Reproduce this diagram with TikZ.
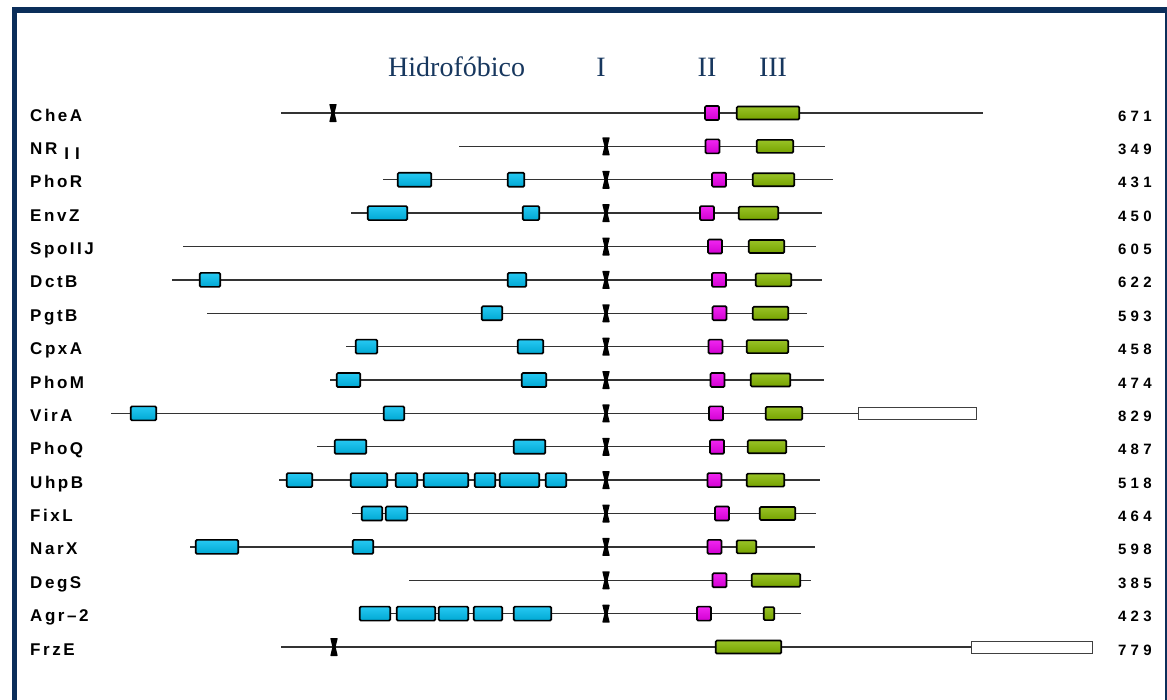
\documentclass[tikz,border=0pt]{standalone}
\usepackage{fontspec}
\setmainfont{Liberation Serif}
\newfontfamily\protfont{Liberation Sans}[LetterSpace=15]
\newfontfamily\lenfont{Liberation Sans}[LetterSpace=28]
\newfontfamily\headfont{Liberation Serif}
\usetikzlibrary{calc}
\definecolor{cframe}{HTML}{0B2E5A}
\definecolor{chead}{HTML}{17375E}
\definecolor{ccyan}{HTML}{00BFF0}
\definecolor{cmagenta}{HTML}{EE00EE}
\definecolor{cgreen}{HTML}{86B800}
\definecolor{cline}{HTML}{333333}
\tikzset{
  every picture/.style={x=1pt, y=-1pt},
  frame/.style={draw=cframe, line width=5.5pt},
  backbone/.style={draw=cline, line width=1.3pt},
  domain/.style={draw=black, line width=1.7pt, rounded corners=1.2pt, inner sep=0pt,
    minimum height=14pt, top color=#1!85!white, bottom color=#1!88!black},
  hydro/.style={domain=ccyan},
  boxII/.style={domain=cmagenta, minimum width=14pt},
  boxIII/.style={domain=cgreen, minimum height=13pt},
  tail/.style={draw=black!75, line width=1pt, fill=white, inner sep=0pt, minimum height=12pt},
  hourglass/.style={fill=black, rounded corners=0.6pt},
  protname/.style={font=\protfont\bfseries\fontsize{17}{17}\selectfont, anchor=base west, inner sep=0pt},
  protlen/.style={font=\lenfont\bfseries\fontsize{15}{15}\selectfont, anchor=base west, inner sep=0pt},
  head/.style={font=\headfont\fontsize{28}{28}\selectfont, text=chead, inner sep=0pt},
}

\begin{document}
\begin{tikzpicture}
  \useasboundingbox (0,0) rectangle (1167,699);
  \draw[frame] (14.5,705) -- (14.5,10) -- (1167.5,10) -- (1167.5,705);
  % column heads
  \node[head, anchor=base west] (hhyd) at (388,76) {Hidrofóbico};
  \node[head, anchor=base] (hI) at (601,76) {I};
  \node[head, anchor=base] (hII) at (707,76) {II};
  \node[head, anchor=base] (hIII) at (773,76) {III};
  % names and lengths
  \foreach \nm/\len [count=\i] in {CheA/671, {NR\hspace{7pt}\raisebox{-5pt}{I\hspace{6pt}I}}/349, PhoR/431, EnvZ/450,
      SpoIIJ/605, DctB/622, PgtB/593, CpxA/458, PhoM/474, VirA/829, PhoQ/487, UhpB/518,
      FixL/464, NarX/598, DegS/385, Agr–2/423, FrzE/779} {
    \node[protname] (name\i) at (30,{113+33.375*(\i-1)+8}) {\nm};
    \node[protlen] (len\i) at (1118,{113+33.375*(\i-1)+8}) {\len};
  }
  % backbones
  \foreach \i/\a/\b [evaluate=\i as \y using 113+33.375*(\i-1)] in {1/281/983, 2/459/825,
      3/383/833, 4/351/822, 5/183/816, 6/172/822, 7/207/807, 8/346/824, 9/330/824,
      10/111/858, 11/317/825, 12/279/820, 13/352/816, 14/190/815, 15/409/811, 16/359/801,
      17/281/971} {
    \coordinate (s\i) at (\a,\y);
    \coordinate (e\i) at (\b,\y);
    \draw[backbone] (s\i) -- (e\i);
  }
  % hydrophobic stretches
  \foreach \i/\a/\b [count=\n, evaluate=\i as \y using 113+33.375*(\i-1)] in {3/397/432, 3/507/525,
      4/367/408, 4/522/540, 6/199/221, 6/507/527, 7/481/503, 8/355/378, 8/517/544,
      9/336/361, 9/521/547, 10/130/157, 10/383/405, 11/334/367, 11/513/546,
      12/286/313, 12/350/388, 12/395/418, 12/423/469, 12/474/496, 12/499/540, 12/545/567,
      13/361/383, 13/385/408, 14/195/239, 14/352/374,
      16/359/391, 16/396/436, 16/438/469, 16/473/503, 16/513/552} {
    \node[hydro, minimum width={\b-\a-1.5}] (hyd\n) at ({(\a+\b)/2},\y) {};
  }
  % motif I
  \foreach \i/\x [count=\n, evaluate=\i as \y using 113+33.375*(\i-1)] in {1/333, 2/606, 3/606, 4/606,
      5/606, 6/606, 7/606, 8/606, 9/606, 10/606, 11/606, 12/606, 13/606, 14/606, 15/606, 16/606, 17/334} {
    \fill[hourglass, shift={(\x,\y)}] (-3.8,-9) -- (3.8,-9) -- (1.6,0) -- (3.8,9) -- (-3.8,9) -- (-1.6,0) -- cycle;
  }
  % motif II
  \foreach \i/\a/\b [count=\n, evaluate=\i as \y using 113+33.375*(\i-1)] in {1/704/720, 2/705/720,
      3/711/727, 4/699/715, 5/707/723, 6/711/727, 7/712/727, 8/708/723, 9/710/725, 10/708/724,
      11/710/724, 12/707/722, 13/714/730, 14/707/722, 15/712/727, 16/697/711} {
    \node[boxII] (mII\n) at ({(\a+\b)/2},\y) {};
  }
  % motif III
  \foreach \i/\a/\b [count=\n, evaluate=\i as \y using 113+33.375*(\i-1)] in {1/736/800, 2/756/794,
      3/752/795, 4/738/779, 5/748/785, 6/755/792, 7/752/789, 8/746/789, 9/750/791, 10/765/803,
      11/747/787, 12/746/785, 13/759/796, 14/736/757, 15/751/801, 16/763/775, 17/715/782} {
    \node[boxIII, minimum width={\b-\a-1.5}] (mIII\n) at ({(\a+\b)/2},\y) {};
  }
  % extra c-terminal domains
  \node[tail, minimum width=118pt, anchor=west] (xt10) at (e10) {};
  \node[tail, minimum width=121pt, anchor=west] (xt17) at (e17) {};
\end{tikzpicture}
\end{document}
